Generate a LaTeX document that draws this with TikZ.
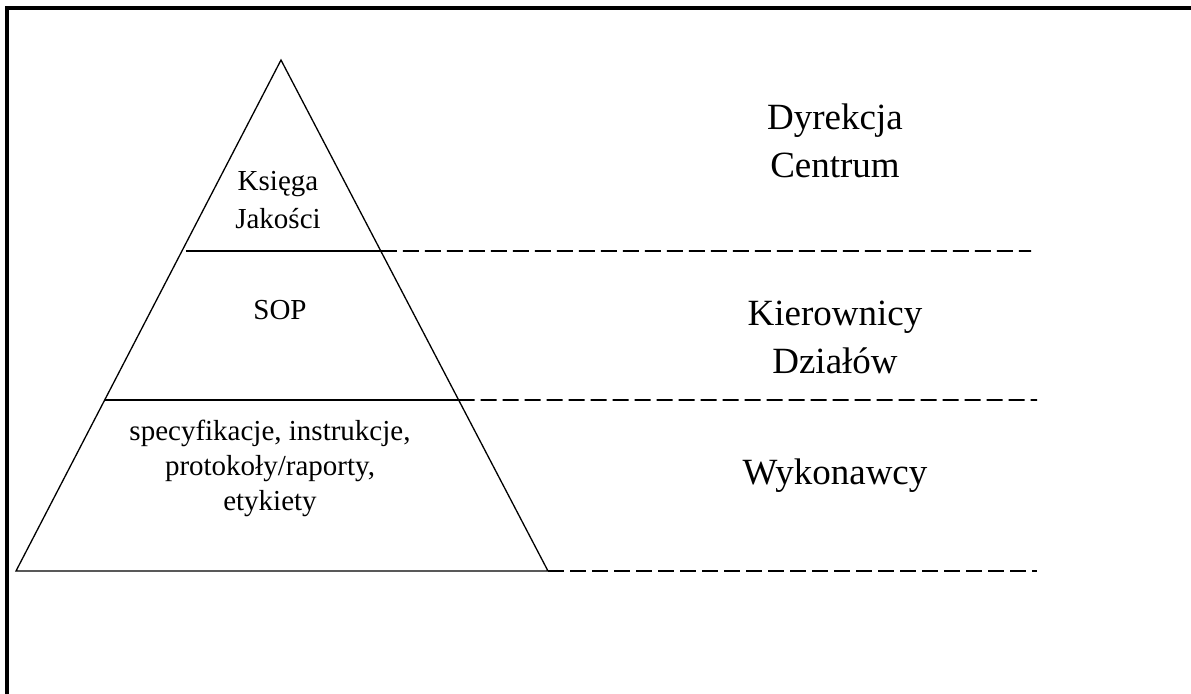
\documentclass[tikz,border=0pt]{standalone}
\usepackage{fontspec}
\setmainfont{Liberation Serif}
\usetikzlibrary{calc}
\tikzset{
  pyrline/.style={line width=0.65pt, black},
  tierline/.style={line width=0.9pt, black, dash pattern=on 8pt off 3pt},
  frameline/.style={line width=1.6pt, black, line cap=rect},
  doclabel/.style={font=\fontsize{14.5}{17.5}\selectfont, align=center, inner sep=0pt},
  rolelabel/.style={font=\fontsize{18.5}{24}\selectfont, align=center, inner sep=0pt}
}
\begin{document}
\begin{tikzpicture}[x=0.5pt, y=-0.5pt]
  \useasboundingbox (0,0) rectangle (1191,693);
  \coordinate (frameTR) at (1191,8);
  \coordinate (frameTL) at (7,8);
  \coordinate (frameBL) at (7,693);
  \draw[frameline] (frameTR) -- (frameTL) -- (frameBL);

  \coordinate (apex) at (281,60);
  \coordinate (baseL) at (16,571);
  \coordinate (baseR) at (548,571);
  \coordinate (midL) at ($(apex)!0.3738!(baseL)$);
  \coordinate (midR) at ($(apex)!0.3738!(baseR)$);
  \coordinate (lowL) at ($(apex)!0.6654!(baseL)$);
  \coordinate (lowR) at ($(apex)!0.6654!(baseR)$);
  \coordinate (tierA) at (1031,251);
  \coordinate (tierB) at (1037,400);
  \coordinate (tierC) at (1037,571);

  \draw[pyrline] (apex) -- (baseL) -- (baseR) -- cycle;
  \draw[pyrline] ([xshift=2pt]midL) -- (midR);
  \draw[pyrline] (lowL) -- (lowR);
  \draw[tierline] (midR) -- (tierA);
  \draw[tierline] (lowR) -- (tierB);
  \draw[tierline] (baseR) -- (tierC);

  \node[doclabel, font=\fontsize{14.5}{19}\selectfont] (ksiega) at (278,200) {Księga\\Jakości};
  \node[doclabel] (sop) at (280,310) {SOP};
  \node[doclabel] (docs) at (270,468) {specyfikacje, instrukcje,\\protokoły/raporty,\\etykiety};

  \node[rolelabel] (dyrekcja) at (835,141) {Dyrekcja\\Centrum};
  \node[rolelabel] (kierownicy) at (835,337) {Kierownicy\\Działów};
  \node[rolelabel] (wykonawcy) at (835,476) {Wykonawcy};
\end{tikzpicture}
\end{document}
